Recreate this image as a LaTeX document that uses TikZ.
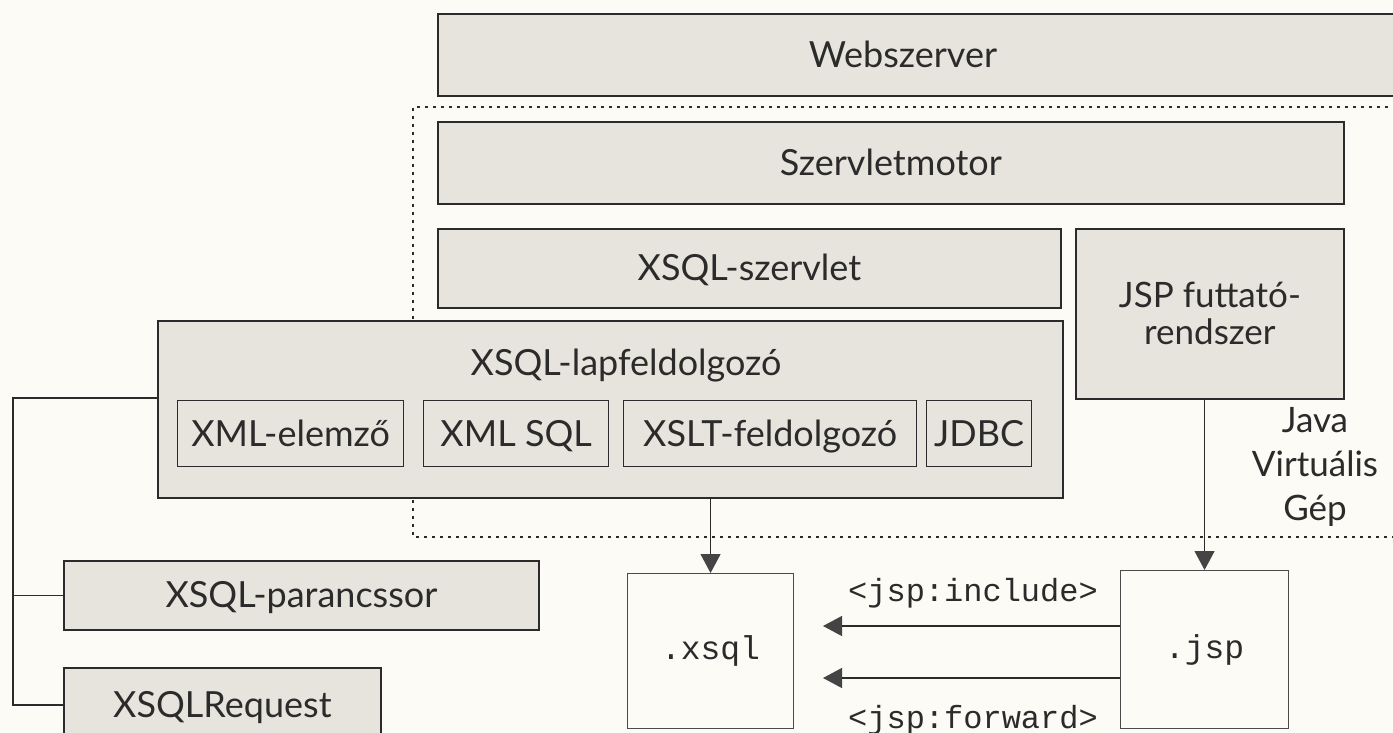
\documentclass[tikz,border=0pt]{standalone}
\usepackage{fontspec}
\setmainfont{Lato}
\setmonofont{Liberation Mono}
\usetikzlibrary{arrows.meta}
\definecolor{paper}{HTML}{FCFBF6}
\definecolor{panel}{HTML}{E6E4DC}
\definecolor{ink}{HTML}{2B2B2B}
\definecolor{tipgray}{HTML}{444444}
\begin{document}
\begin{tikzpicture}[x=1pt,y=-1pt,
  panelbox/.style={draw=ink, line width=1.8pt, fill=panel, inner sep=0pt,
    anchor=north west, font=\fontsize{36}{42}\selectfont, text=ink,
    text height=25pt, text depth=0pt},
  subbox/.style={panelbox, line width=1.3pt},
  filebox/.style={draw=ink!85, line width=1.1pt, fill=paper, inner sep=0pt,
    anchor=north west, font=\ttfamily\fontsize{33}{36}\selectfont, text=ink},
  lbl/.style={font=\fontsize{36}{42}\selectfont, text=ink, inner sep=0pt,
    text height=25pt, text depth=0pt},
  codelbl/.style={font=\ttfamily\fontsize{32}{36}\selectfont, text=ink, inner sep=0pt},
  wire/.style={draw=ink, line width=1.5pt},
  arr/.style={draw=ink, line width=1.3pt,
    -{Triangle[length=19pt,width=20pt,color=tipgray,fill=tipgray]}},
  dotframe/.style={draw=ink, line width=1.6pt, dash pattern=on 3pt off 5pt}
]
\useasboundingbox (0,0) rectangle (1393,733);
\fill[paper] (0,0) rectangle (1393,733);

% web server layer, running off the right edge
\node[panelbox, minimum width=960pt, minimum height=82pt] (web) at (437,13) {};
\node[lbl] (webtxt) at (903,55) {Webszerver};

% Java virtual machine boundary
\draw[dotframe] (1396,107) -- (413,107) -- (413,537) -- (1396,537);

\node[panelbox, minimum width=906pt, minimum height=82pt] (engine) at (437,121) {Szervletmotor};
\node[panelbox, minimum width=623pt, minimum height=79pt] (servlet) at (437,228) {XSQL-szervlet};
\node[panelbox, minimum width=268pt, minimum height=170pt, align=center,
      text height=, text depth=, font=\fontsize{35}{40}\selectfont] (jsprt) at (1075,228)
      {JSP futtató-\\[-3pt]rendszer};

% page processor with its components
\node[panelbox, minimum width=905pt, minimum height=177pt] (lap) at (157,320) {};
\node[lbl] (laptxt) at (626,363) {XSQL-lapfeldolgozó};
\node[subbox, minimum width=226pt, minimum height=66pt] (parser) at (177,400) {XML-elemző};
\node[subbox, minimum width=185pt, minimum height=66pt] (xmlsql) at (423,400) {XML SQL};
\node[subbox, minimum width=293pt, minimum height=66pt] (xslt) at (623,400) {XSLT-feldolgozó};
\node[subbox, minimum width=105pt, minimum height=66pt] (jdbc) at (926,400) {JDBC};

\node[lbl, align=center, text height=, text depth=, font=\fontsize{35}{44}\selectfont]
  (jvm) at (1315,467) {Java\\Virtuális\\Gép};

% other clients
\node[panelbox, minimum width=475pt, minimum height=69pt] (cmd) at (63,560) {XSQL-parancssor};
\node[panelbox, minimum width=317pt, minimum height=74pt] (req) at (63,667) {XSQLRequest};

% source files
\node[filebox, minimum width=166pt, minimum height=155pt] (xsql) at (627,573) {.xsql};
\node[filebox, minimum width=168pt, minimum height=158pt] (jsp) at (1120,570) {.jsp};

% bus on the left
\coordinate (busTop) at (13,398);
\draw[wire] (lap.west |- busTop) -- (busTop) -- (busTop |- req.west) -- (req.west);
\draw[wire] (busTop |- cmd.west) -- (cmd.west);

% arrows
\draw[arr] (xsql.north |- lap.south) -- (xsql.north);
\draw[arr] (jsp.north |- jsprt.south) -- (jsp.north);
\coordinate (incTip) at (823,626);
\coordinate (fwdTip) at (823,678);
\draw[arr] (jsp.west |- incTip) -- (incTip);
\draw[arr] (jsp.west |- fwdTip) -- (fwdTip);
\node[codelbl] (inclbl) at (973,593) {<jsp:include>};
\node[codelbl] (fwdlbl) at (973,720) {<jsp:forward>};
\end{tikzpicture}
\end{document}
